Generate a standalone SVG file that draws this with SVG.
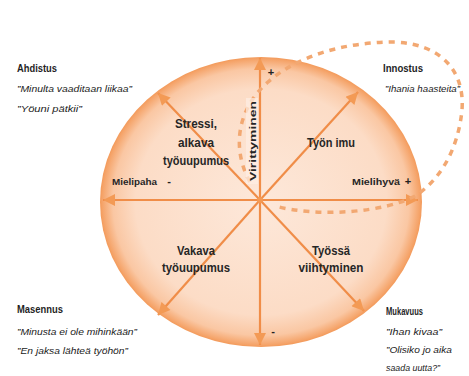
<svg xmlns="http://www.w3.org/2000/svg" width="469" height="376" viewBox="0 0 469 376">
  <defs>
    <radialGradient id="disc" cx="0.5" cy="0.5" r="0.5">
      <stop offset="0" stop-color="#fde8da"/>
      <stop offset="0.78" stop-color="#fcdcc6"/>
      <stop offset="0.92" stop-color="#fac7a3"/>
      <stop offset="0.985" stop-color="#f5a46a"/>
      <stop offset="1" stop-color="#f39a5a"/>
    </radialGradient>
    <marker id="head" viewBox="0 0 10 10" refX="10" refY="5" markerUnits="userSpaceOnUse" markerWidth="18" markerHeight="12" orient="auto">
      <path d="M0,0 L10,5 L0,10 z" fill="#f39a55"/>
    </marker>
  </defs>
  <style>
    .axis { stroke: #f08d48; stroke-width: 2.2; fill: none; marker-end: url(#head); }
    .loop { stroke: #f2a872; stroke-width: 3.5; fill: none; stroke-dasharray: 6 6; }
    .lbl { font-family: "Liberation Sans", Arial, sans-serif; font-weight: bold; fill: #262626; }
    .head { font-family: "Liberation Sans", Arial, sans-serif; font-weight: bold; font-size: 10px; fill: #1f1f1f; }
    .quote { font-family: "Liberation Sans", Arial, sans-serif; font-style: italic; font-size: 9px; fill: #222; }
    .inner { font-size: 12px; text-anchor: middle; }
    .axisname { font-size: 9px; }
    .sign { font-family: "Liberation Sans", Arial, sans-serif; font-weight: bold; font-size: 11px; fill: #222; text-anchor: middle; }
  </style>

  <rect width="469" height="376" fill="#ffffff"/>

  <!-- background disc -->
  <g id="disc-area">
    <ellipse cx="261" cy="202" rx="161" ry="145" fill="url(#disc)"/>
  </g>

  <!-- axes and diagonals -->
  <g id="connectors">
    <line class="axis" x1="260" y1="200" x2="260" y2="58"/>
    <line class="axis" x1="260" y1="200" x2="260" y2="345"/>
    <line class="axis" x1="260" y1="200" x2="103" y2="200"/>
    <line class="axis" x1="260" y1="200" x2="418" y2="200"/>
    <line class="axis" x1="260" y1="200" x2="358" y2="92"/>
    <line class="axis" x1="260" y1="200" x2="158" y2="93"/>
    <line class="axis" x1="260" y1="200" x2="158" y2="315"/>
    <line class="axis" x1="260" y1="200" x2="364" y2="311"/>
    <circle cx="260" cy="200" r="3" fill="#f39a55"/>
    <path class="loop" d="M250,182 C232,150 236,110 268,82 C295,58 340,42 395,42 C440,44 465,70 462,110 C458,150 440,180 415,196 C385,212 320,218 275,206"/>
  </g>

  <!-- axis labels -->
  <g id="axis-labels">
    <rect x="246" y="98" width="12" height="86" fill="#fdeee4" opacity="0.7"/>
    <text class="lbl axisname" transform="translate(256,141) rotate(-90)" text-anchor="middle" textLength="80" lengthAdjust="spacingAndGlyphs">Virittyminen</text>
    <text class="lbl axisname" x="112" y="185" textLength="45" lengthAdjust="spacingAndGlyphs">Mielipaha</text>
    <text class="lbl axisname" x="352" y="185" textLength="48" lengthAdjust="spacingAndGlyphs">Mielihyvä</text>
    <text class="sign" x="169" y="185">-</text>
    <text class="sign" x="408" y="185">+</text>
    <text class="sign" x="271" y="76">+</text>
    <text class="sign" x="273" y="335">-</text>
  </g>

  <!-- sector labels -->
  <g id="stressi">
    <text class="lbl inner" x="196" y="128" textLength="42" lengthAdjust="spacingAndGlyphs">Stressi,</text>
    <text class="lbl inner" x="196" y="147" textLength="36" lengthAdjust="spacingAndGlyphs">alkava</text>
    <text class="lbl inner" x="196" y="165" textLength="66" lengthAdjust="spacingAndGlyphs">työuupumus</text>
  </g>
  <g id="tyon-imu">
    <text class="lbl inner" x="331" y="147" textLength="48" lengthAdjust="spacingAndGlyphs">Työn imu</text>
  </g>
  <g id="vakava">
    <text class="lbl inner" x="196" y="255" textLength="38" lengthAdjust="spacingAndGlyphs">Vakava</text>
    <text class="lbl inner" x="196" y="272" textLength="68" lengthAdjust="spacingAndGlyphs">työuupumus</text>
  </g>
  <g id="viihtyminen">
    <text class="lbl inner" x="331" y="255" textLength="38" lengthAdjust="spacingAndGlyphs">Työssä</text>
    <text class="lbl inner" x="331" y="272" textLength="65" lengthAdjust="spacingAndGlyphs">viihtyminen</text>
  </g>

  <!-- corner states -->
  <g id="ahdistus">
    <text class="head" x="17" y="72" textLength="40" lengthAdjust="spacingAndGlyphs">Ahdistus</text>
    <text class="quote" x="17" y="92" textLength="115" lengthAdjust="spacingAndGlyphs">”Minulta vaaditaan liikaa”</text>
    <text class="quote" x="17" y="112" textLength="65" lengthAdjust="spacingAndGlyphs">”Yöuni pätkii”</text>
  </g>
  <g id="innostus">
    <text class="head" x="383" y="72" textLength="40" lengthAdjust="spacingAndGlyphs">Innostus</text>
    <text class="quote" x="385" y="92" textLength="75" lengthAdjust="spacingAndGlyphs">”Ihania haasteita”</text>
  </g>
  <g id="masennus">
    <text class="head" x="17" y="313" textLength="46" lengthAdjust="spacingAndGlyphs">Masennus</text>
    <text class="quote" x="17" y="335" textLength="120" lengthAdjust="spacingAndGlyphs">”Minusta ei ole mihinkään”</text>
    <text class="quote" x="17" y="354" textLength="111" lengthAdjust="spacingAndGlyphs">”En jaksa lähteä työhön”</text>
  </g>
  <g id="mukavuus">
    <text class="head" x="386" y="315" textLength="37" lengthAdjust="spacingAndGlyphs">Mukavuus</text>
    <text class="quote" x="386" y="335" textLength="56" lengthAdjust="spacingAndGlyphs">”Ihan kivaa”</text>
    <text class="quote" x="386" y="353" textLength="66" lengthAdjust="spacingAndGlyphs">”Olisiko jo aika</text>
    <text class="quote" x="386" y="371" textLength="54" lengthAdjust="spacingAndGlyphs">saada uutta?”</text>
  </g>
</svg>
